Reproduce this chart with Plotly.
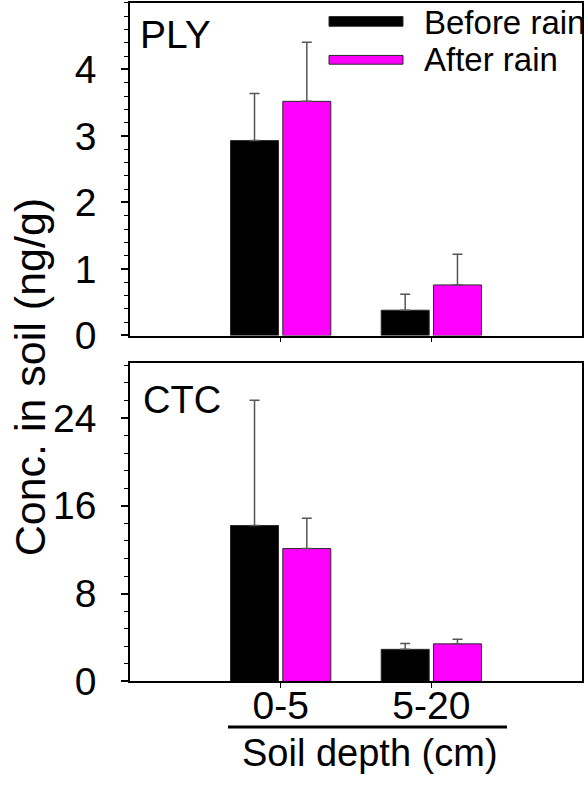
import plotly.graph_objects as go

depths = ["0-5", "5-20"]
series_names = ["Before rain", "After rain"]
colors = ["#000000", "#FF00FF"]

ply_before = [2.93, 0.38]
ply_before_err = [0.71, 0.24]
ply_after = [3.52, 0.76]
ply_after_err = [0.89, 0.46]

ctc_before = [14.2, 2.92]
ctc_before_err = [11.4, 0.53]
ctc_after = [12.1, 3.42]
ctc_after_err = [2.77, 0.41]

ply_ticks = [0, 1, 2, 3, 4]
ctc_ticks = [0, 8, 16, 24]

FONT = "Liberation Sans, Arial, sans-serif"
W, H = 588, 799

fig = go.Figure()

def add_bars(vals, errs, name, color, xa, ya):
    fig.add_trace(go.Bar(
        x=depths, y=vals, name=name, xaxis=xa, yaxis=ya,
        marker=dict(color=color, line=dict(color="#2a2a2a", width=1)),
        error_y=dict(type="data", array=errs, arrayminus=[0] * len(errs),
                     symmetric=False, color="#555555", thickness=1.5, width=5),
        showlegend=False,
    ))

add_bars(ply_before, ply_before_err, series_names[0], colors[0], "x", "y")
add_bars(ply_after, ply_after_err, series_names[1], colors[1], "x", "y")
add_bars(ctc_before, ctc_before_err, series_names[0], colors[0], "x2", "y2")
add_bars(ctc_after, ctc_after_err, series_names[1], colors[1], "x2", "y2")

xd = [130 / W, 582 / W]
top_dom = [1 - 345 / H, 1 - 3 / H]
bot_dom = [1 - 700.7 / H, 1 - 373.3 / H]

axis_common = dict(showline=True, linecolor="black", linewidth=1.5, mirror=True,
                   showgrid=False, zeroline=False)
TICKFONT = dict(size=39, family=FONT, color="black")

fig.update_layout(
    width=W, height=H,
    margin=dict(l=0, r=0, t=0, b=0),
    paper_bgcolor="white", plot_bgcolor="white",
    barmode="group", bargap=0.306, bargroupgap=0.082,
    font=dict(family=FONT, color="black"),
    xaxis=dict(domain=xd, anchor="y", range=[-1, 2], type="category",
               ticks="outside", ticklen=5, tickcolor="black", showticklabels=False,
               **axis_common),
    yaxis=dict(domain=top_dom, anchor="x", range=[0, 5], tickvals=ply_ticks,
               ticks="outside", ticklen=7, tickcolor="black", tickwidth=1.5,
               tickfont=TICKFONT, ticklabelstandoff=17,
               minor=dict(dtick=0.2, ticks="outside", ticklen=4, tickcolor="black", tickwidth=1.2),
               **axis_common),
    xaxis2=dict(domain=xd, anchor="y2", range=[-1, 2], type="category",
                ticks="outside", ticklen=5, tickcolor="black",
                tickfont=TICKFONT, ticklabelstandoff=-16,
                **axis_common),
    yaxis2=dict(domain=bot_dom, anchor="x2", range=[0, 29], tickvals=ctc_ticks,
                ticks="outside", ticklen=7, tickcolor="black", tickwidth=1.5,
                tickfont=TICKFONT, ticklabelstandoff=17,
                minor=dict(dtick=1.6, ticks="outside", ticklen=4, tickcolor="black", tickwidth=1.2),
                **axis_common),
)

ann = []
ann.append(dict(text="PLY", x=138 / W, y=1 - 35 / H, xref="paper", yref="paper",
                xanchor="left", yanchor="middle", showarrow=False,
                font=dict(size=39, family=FONT)))
ann.append(dict(text="CTC", x=141 / W, y=1 - 411 / H, xref="paper", yref="paper",
                xanchor="left", yanchor="middle", showarrow=False,
                font=dict(size=38, family=FONT)))
ann.append(dict(text="Conc. in soil (ng/g)", x=30 / W, y=1 - 388 / H, xref="paper", yref="paper",
                xanchor="center", yanchor="middle", textangle=-90, showarrow=False,
                font=dict(size=43, family=FONT)))
ann.append(dict(text="Soil depth (cm)", x=370 / W, y=1 - 774 / H, xref="paper", yref="paper",
                xanchor="center", yanchor="middle", showarrow=False,
                font=dict(size=38, family=FONT)))
# legend
ann.append(dict(text=series_names[0], x=422 / W, y=1 - 23 / H, xref="paper", yref="paper",
                xanchor="left", yanchor="middle", showarrow=False,
                font=dict(size=33, family=FONT)))
ann.append(dict(text=series_names[1], x=422 / W, y=1 - 61 / H, xref="paper", yref="paper",
                xanchor="left", yanchor="middle", showarrow=False,
                font=dict(size=33, family=FONT)))
fig.update_layout(annotations=ann)

shapes = [
    dict(type="rect", xref="paper", yref="paper", x0=329 / W, x1=403 / W,
         y0=1 - 27 / H, y1=1 - 17 / H, fillcolor=colors[0], line=dict(color="#2a2a2a", width=1)),
    dict(type="rect", xref="paper", yref="paper", x0=329 / W, x1=403 / W,
         y0=1 - 66 / H, y1=1 - 57 / H, fillcolor=colors[1], line=dict(color="#2a2a2a", width=1)),
    dict(type="line", xref="paper", yref="paper", x0=228 / W, x1=507 / W,
         y0=1 - 747.5 / H, y1=1 - 747.5 / H, line=dict(color="black", width=3)),
]
fig.update_layout(shapes=shapes)

post = ("document.documentElement.style.margin='0';document.body.style.margin='0';"
        "document.documentElement.style.overflow='hidden';document.body.style.overflow='hidden';"
        "var d=document.getElementById('{plot_id}');d.style.position='fixed';"
        "d.style.left='0px';d.style.top='0px';")
fig.write_html("out.html", config={"displayModeBar": False}, post_script=post)
